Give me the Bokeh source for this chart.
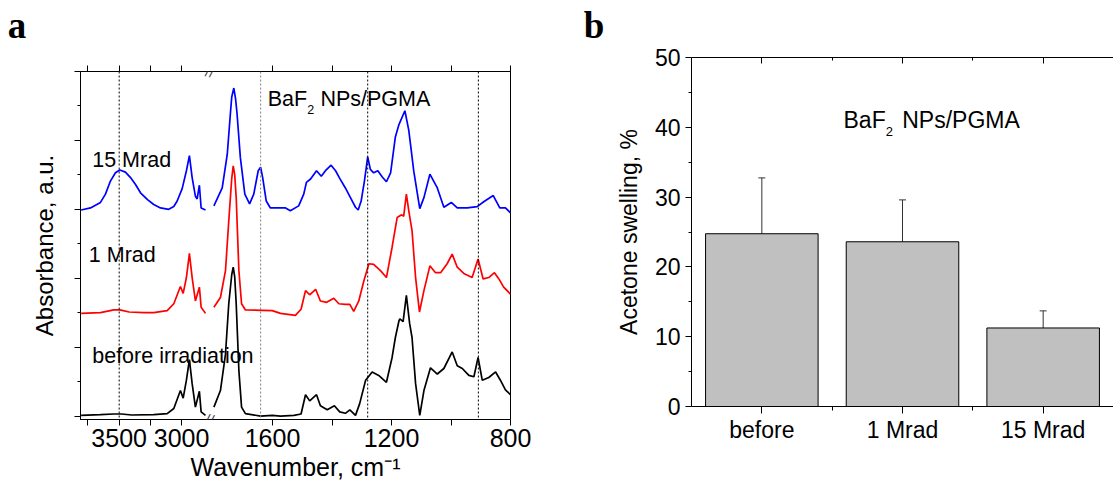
import numpy as np
from bokeh.plotting import figure
from bokeh.models import (Range1d, LinearAxis, FixedTicker, Span, Label, Whisker,
                          ColumnDataSource, TeeHead)
from bokeh.layouts import row, column
from bokeh.embed import file_html
from bokeh.resources import INLINE

# ---------------- panel a : FTIR spectra (wavenumber, absorbance a.u.) ----------------
wn_hi_15 = [3805, 3730, 3650, 3610, 3570, 3530, 3495, 3450, 3409, 3369, 3329, 3273, 3223, 3169,
            3103, 3062, 3035, 2995, 2961, 2937, 2915, 2889, 2875, 2857, 2843, 2808]
ab_hi_15 = [2.99, 3.02, 3.10, 3.22, 3.41, 3.53, 3.57, 3.54, 3.46, 3.36, 3.24, 3.14, 3.07, 3.02,
            3.00, 3.04, 3.12, 3.30, 3.56, 3.78, 3.46, 3.19, 3.15, 3.35, 3.02, 2.99]
wn_lo_15 = [1797, 1769, 1752, 1741, 1737, 1730, 1724, 1719, 1708, 1693, 1677, 1663, 1648, 1640,
            1633, 1621, 1607, 1556, 1540, 1512, 1495, 1486, 1472, 1452, 1436, 1422, 1403, 1388,
            1374, 1355, 1338, 1321, 1312, 1302, 1291, 1280, 1271, 1260, 1246, 1231, 1217, 1203,
            1187, 1175, 1155, 1142, 1125, 1105, 1091, 1071, 1046, 1024, 999, 979, 945, 912, 890,
            858, 836, 817, 800]
ab_lo_15 = [3.05, 3.31, 3.80, 4.42, 4.63, 4.76, 4.60, 4.38, 3.75, 3.22, 3.08, 3.22, 3.56, 3.61,
            3.46, 3.12, 3.02, 3.02, 2.98, 3.05, 3.22, 3.39, 3.44, 3.56, 3.48, 3.56, 3.64, 3.56,
            3.45, 3.31, 3.17, 3.03, 2.99, 3.12, 3.41, 3.76, 3.58, 3.53, 3.56, 3.47, 3.40, 3.53,
            4.05, 4.23, 4.43, 4.15, 3.55, 3.01, 3.17, 3.51, 3.31, 3.03, 3.10, 3.02, 3.02, 3.04, 3.11,
            3.20, 3.02, 3.02, 2.95]

wn_hi_1 = [3805, 3650, 3543, 3495, 3420, 3300, 3223, 3115, 3062, 3009, 2987, 2961, 2937, 2915,
           2889, 2857, 2843, 2808]
ab_hi_1 = [1.49, 1.50, 1.54, 1.54, 1.51, 1.50, 1.50, 1.53, 1.63, 1.88, 1.78, 2.01, 2.36, 2.01,
           1.67, 1.87, 1.58, 1.49]
wn_lo_1 = [1797, 1775, 1758, 1747, 1737, 1732, 1727, 1722, 1713, 1704, 1691, 1601, 1573, 1523,
           1504, 1489, 1475, 1455, 1439, 1418, 1394, 1377, 1355, 1340, 1327, 1310, 1293, 1276,
           1260, 1237, 1217, 1198, 1181, 1166, 1159, 1150, 1142, 1131, 1119, 1106, 1091, 1071,
           1052, 1035, 1013, 996, 979, 957, 929, 909, 892, 873, 854, 839, 823, 800]
ab_lo_1 = [1.58, 1.72, 2.11, 2.83, 3.45, 3.63, 3.50, 3.17, 2.11, 1.63, 1.54, 1.53, 1.49, 1.46,
           1.55, 1.82, 1.76, 1.84, 1.67, 1.65, 1.71, 1.63, 1.62, 1.62, 1.52, 1.67, 1.96, 2.21,
           2.20, 2.11, 2.01, 2.45, 2.88, 2.92, 2.90, 3.22, 2.98, 2.69, 2.01, 1.51, 1.82, 2.18,
           2.08, 2.08, 2.21, 2.35, 2.16, 2.07, 2.01, 2.28, 1.99, 2.01, 2.08, 1.99, 1.87, 1.77]

wn_hi_0 = [3805, 3650, 3543, 3480, 3400, 3223, 3115, 3062, 3009, 2987, 2961, 2937, 2915, 2889,
           2857, 2843, 2808]
ab_hi_0 = [0.01, 0.02, 0.03, 0.03, 0.015, 0.02, 0.035, 0.11, 0.37, 0.26, 0.52, 0.82, 0.47, 0.13,
           0.36, 0.06, 0.01]
wn_lo_0 = [1797, 1775, 1758, 1747, 1737, 1732, 1727, 1722, 1713, 1704, 1691, 1640, 1601, 1573,
           1528, 1504, 1489, 1475, 1452, 1439, 1416, 1392, 1374, 1355, 1340, 1321, 1307, 1287,
           1265, 1243, 1217, 1198, 1187, 1175, 1172, 1161, 1150, 1139, 1131, 1119, 1105, 1091,
           1069, 1046, 1024, 996, 979, 962, 940, 923, 909, 895, 873, 850, 834, 817, 800]
ab_lo_0 = [0.13, 0.37, 0.90, 1.63, 2.05, 2.16, 2.02, 1.63, 0.66, 0.13, 0.035, 0.0, 0.01, 0.0,
           0.01, 0.03, 0.31, 0.22, 0.31, 0.15, 0.09, 0.15, 0.06, 0.04, 0.09, 0.01, 0.18, 0.52,
           0.64, 0.59, 0.49, 0.85, 1.14, 1.38, 1.41, 1.37, 1.75, 1.34, 1.14, 0.47, 0.01, 0.37,
           0.70, 0.61, 0.69, 0.93, 0.73, 0.69, 0.59, 0.57, 0.85, 0.52, 0.56, 0.64, 0.52, 0.38, 0.31]

marker_lines = [3500, 1640, 1280, 908]
marker_colors = ["black", "#808080", "black", "black"]
x_major = [3500, 3000, 1600, 1200, 800]
x_minor = [3750, 3250, 1400, 1000]
y_major = [0, 1, 2, 3, 4, 5]
y_minor = [0.5, 1.5, 2.5, 3.5, 4.5]

# ---------------- panel b : acetone swelling ----------------
cats = ["before", "1 Mrad", "15 Mrad"]
swelling = [24.75, 23.6, 11.25]
swelling_err = [8.0, 6.0, 2.45]
b_major = [0, 10, 20, 30, 40, 50]
b_minor = [5, 15, 25, 35, 45]

# broken x axis: high-wavenumber segment and fingerprint segment
HI_START, HI_END, HI_W = 3810.0, 2800.0, 126.0
GAP_W = 6.5
LO_START, LO_END, LO_W = 1800.0, 800.0, 297.5


def xpos(w):
    w = np.asarray(w, dtype=float)
    return np.where(w >= 2000,
                    (HI_START - w) / (HI_START - HI_END) * HI_W,
                    HI_W + GAP_W + (LO_START - w) / (LO_START - LO_END) * LO_W)


FONT = "Liberation Sans"
HEAD_H = 45          # strip above the panels holding the panel letters
TOTAL_W, TOTAL_H = 1113, 487
MID_SANS = 0.3465    # (ascent - descent)/2 in em: baseline -> middle of text box
MID_SERIF = 0.3375


def style_ticks(ax, mj_out, mj_in, mn_out, mn_in):
    ax.major_tick_out = mj_out
    ax.major_tick_in = mj_in
    ax.minor_tick_out = mn_out
    ax.minor_tick_in = mn_in
    ax.axis_line_color = "black"
    ax.major_tick_line_color = "black"
    ax.minor_tick_line_color = "black"
    ax.major_label_text_color = "black"
    ax.axis_label_text_color = "black"


def blank_labels(ax, ticks):
    ax.major_label_overrides = {t: "" for t in ticks}
    ax.major_label_standoff = 0
    ax.major_label_text_font_size = "1px"


def text_label(x, y, text, size, dx=0.0, dy=0.0, font=FONT, mid=MID_SANS, **kw):
    """Label whose (x, y) + (dx, dy) px is the alphabetic baseline start."""
    return Label(x=x, y=y, x_offset=dx, y_offset=dy + mid * size, text=text,
                 text_font=font, text_font_size=f"{size}px", text_color="black",
                 text_baseline="middle", text_align="left", **kw)


# ---------------- header strip with panel letters ----------------
p0 = figure(width=TOTAL_W, height=HEAD_H, x_range=Range1d(0, TOTAL_W), y_range=Range1d(0, HEAD_H),
            output_backend="svg", toolbar_location=None, min_border=0,
            x_axis_location=None, y_axis_location=None)
p0.grid.visible = False
p0.outline_line_color = None
p0.add_layout(text_label(7.3, HEAD_H - 37.5, "a", 37, font="Liberation Serif", mid=MID_SERIF,
                         text_font_style="bold"))
p0.add_layout(text_label(583.3, HEAD_H - 37.0, "b", 37, font="Liberation Serif", mid=MID_SERIF,
                         text_font_style="bold"))

# ---------------- panel a ----------------
p1 = figure(width=560, height=TOTAL_H - HEAD_H, x_range=Range1d(0, HI_W + GAP_W + LO_W),
            y_range=Range1d(-0.05, 5.0), output_backend="svg", toolbar_location=None,
            min_border_left=80, min_border_right=50, min_border_top=71 - HEAD_H,
            min_border_bottom=68, x_axis_location=None, y_axis_location=None)
p1.grid.visible = False
p1.outline_line_color = "black"
p1.outline_line_width = 1

xt_major = [float(v) for v in xpos(x_major)]
xt = FixedTicker(ticks=xt_major, minor_ticks=[float(v) for v in xpos(x_minor)])
xb = LinearAxis(ticker=xt)
xb.major_label_overrides = {float(xpos(t)): str(t) for t in x_major}
xb.major_label_text_font = FONT
xb.major_label_text_font_size = "25px"
xb.major_label_standoff = 3
xb.axis_label = "Wavenumber, cm\u207b\u00b9"
xb.axis_label_text_font = FONT
xb.axis_label_text_font_size = "25px"
xb.axis_label_text_font_style = "normal"
xb.axis_label_standoff = 3
style_ticks(xb, 6, 0, 6, 0)
p1.add_layout(xb, "below")

xa = LinearAxis(ticker=xt)
blank_labels(xa, xt_major)
style_ticks(xa, 6, 0, 6, 0)
p1.add_layout(xa, "above")

yl = LinearAxis(ticker=FixedTicker(ticks=y_major, minor_ticks=y_minor))
blank_labels(yl, y_major)
style_ticks(yl, 6, 0, 3, 0)
yl.axis_label = "Absorbance, a.u."
yl.axis_label_text_font = FONT
yl.axis_label_text_font_size = "24px"
yl.axis_label_text_font_style = "normal"
yl.axis_label_standoff = 17
p1.add_layout(yl, "left")

for w, c in zip(marker_lines, marker_colors):
    p1.add_layout(Span(location=float(xpos(w)), dimension="height", line_color=c,
                       line_width=1, line_dash="2 2"))

for wh, ah, wl, al, col in [(wn_hi_15, ab_hi_15, wn_lo_15, ab_lo_15, "#0000ff"),
                            (wn_hi_1, ab_hi_1, wn_lo_1, ab_lo_1, "#ff0000"),
                            (wn_hi_0, ab_hi_0, wn_lo_0, ab_lo_0, "black")]:
    p1.line(xpos(wh), ah, line_color=col, line_width=1.7)
    p1.line(xpos(wl), al, line_color=col, line_width=1.7)

p1.add_layout(text_label(float(xpos(3716)), 3.61, "15 Mrad", 21.5))
p1.add_layout(text_label(float(xpos(3743)), 2.23, "1 Mrad", 21.5))
p1.add_layout(text_label(float(xpos(3716)), 0.76, "before irradiation", 21.5))
bx = float(xpos(1616))
p1.add_layout(text_label(bx, 4.50, "BaF", 21.5))
p1.add_layout(text_label(bx, 4.50, "2", 12.5, dx=39.4, dy=-8))
p1.add_layout(text_label(bx, 4.50, "NPs/PGMA", 21.5, dx=52.7))

# break marks on the broken axis
for yy in (5.0, -0.05):
    p1.add_layout(Label(x=HI_W + GAP_W / 2, y=yy, text="//", text_font=FONT,
                        text_font_size="15px", text_align="center", text_baseline="middle",
                        angle=-0.2))

# ---------------- panel b ----------------
xs = list(range(1, len(cats) + 1))
p2 = figure(width=553, height=TOTAL_H - HEAD_H, x_range=Range1d(0.5, len(cats) + 0.5),
            y_range=Range1d(0, 50), output_backend="svg", toolbar_location=None,
            min_border_left=131, min_border_right=0, min_border_top=57 - HEAD_H,
            min_border_bottom=81, x_axis_location=None, y_axis_location=None)
p2.grid.visible = False
p2.outline_line_color = None

src = ColumnDataSource(dict(x=xs, top=swelling,
                            upper=[s + e for s, e in zip(swelling, swelling_err)]))
p2.vbar(x="x", top="top", width=0.8, source=src, fill_color="#c0c0c0",
        line_color="black", line_width=1)
p2.add_layout(Whisker(source=src, base="x", lower="top", upper="upper", dimension="height",
                      line_color="#333333", line_width=1, lower_head=None,
                      upper_head=TeeHead(size=7, line_color="#333333", line_width=1)))

bt = FixedTicker(ticks=xs, minor_ticks=[x + 0.5 for x in xs[:-1]])
b_bot = LinearAxis(ticker=bt)
b_bot.major_label_overrides = {x: c for x, c in zip(xs, cats)}
b_bot.major_label_text_font = FONT
b_bot.major_label_text_font_size = "23px"
b_bot.major_label_standoff = 3
style_ticks(b_bot, 7, 0, 4, 0)
p2.add_layout(b_bot, "below")

b_top = LinearAxis(ticker=bt)
blank_labels(b_top, xs)
style_ticks(b_top, 0, 6, 0, 3)
p2.add_layout(b_top, "above")

b_left = LinearAxis(ticker=FixedTicker(ticks=b_major, minor_ticks=b_minor))
b_left.major_label_text_font = FONT
b_left.major_label_text_font_size = "23px"
b_left.major_label_standoff = 5
style_ticks(b_left, 6, 0, 3, 0)
b_left.axis_label = "Acetone swelling, %"
b_left.axis_label_text_font = FONT
b_left.axis_label_text_font_size = "23px"
b_left.axis_label_text_font_style = "normal"
b_left.axis_label_standoff = 10
p2.add_layout(b_left, "left")

bx2 = 1.5806
p2.add_layout(text_label(bx2, 39.9, "BaF", 23))
p2.add_layout(text_label(bx2, 39.9, "2", 13, dx=42.2, dy=-7.7))
p2.add_layout(text_label(bx2, 39.9, "NPs/PGMA", 23, dx=58.7))

layout = column(p0, row(column(p1), column(p2)))
open("out.html", "w").write(file_html(layout, INLINE))
